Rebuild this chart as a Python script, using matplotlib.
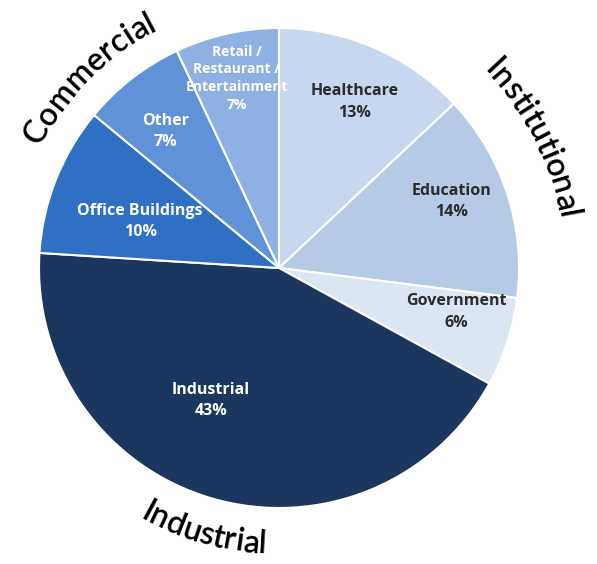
import numpy as np
import matplotlib.pyplot as plt

sectors = ['Healthcare', 'Education', 'Government', 'Industrial',
           'Office Buildings', 'Other', 'Retail /\nRestaurant /\nEntertainment']
shares = [13, 14, 6, 43, 10, 7, 7]
groups = ['Institutional', 'Industrial', 'Commercial']

colors = ['#c6d7ef', '#b6cae6', '#dce6f3', '#1b365f', '#3070c4', '#5f92d6', '#8db1e2']
text_colors = ['#2b2b2b', '#2b2b2b', '#2b2b2b', 'white', 'white', 'white', 'white']
label_dist = [0.76, 0.77, 0.76, 0.62, 0.61, 0.74, 0.81]
label_turn = [-1, 3, 4, -11, 3, 2, 0]   # nudge label angle off the wedge middle
label_size = [11.5, 11.5, 11.5, 11.5, 11.5, 11.5, 10]
label_gap = [1.45, 1.45, 1.45, 1.45, 1.45, 1.45, 1.35]

W, H = 597, 564
cx, cy, R = 279, H - 268, 240
FONT = 'Open Sans'
ARC_FONT = 'Lato'


def arc_text(ax, text, mid, radius, size, bottom=False):
    # lay out characters one by one along a circle around the pie centre
    rend = ax.figure.canvas.get_renderer()
    widths = []
    for ch in text:
        t = ax.text(0, 0, ch, fontsize=size, family=ARC_FONT, fontweight='semibold')
        widths.append(t.get_window_extent(rend).width)
        t.remove()
    span = sum(widths) / radius
    pos = 0.0
    for ch, w in zip(text, widths):
        off = (pos + w / 2) / radius
        if bottom:
            phi = np.radians(mid) + span / 2 - off
            rot = 180 - np.degrees(phi)
        else:
            phi = np.radians(mid) - span / 2 + off
            rot = -np.degrees(phi)
        ax.text(cx + radius * np.sin(phi), cy + radius * np.cos(phi), ch,
                fontsize=size, family=ARC_FONT, fontweight='semibold', rotation=rot,
                rotation_mode='anchor', ha='center', va='baseline', color='black')
        pos += w


fig = plt.figure(figsize=(W / 100, H / 100), dpi=100)
ax = fig.add_axes([0, 0, 1, 1])

wedges, _ = ax.pie(shares, colors=colors, startangle=90, counterclock=False,
                   radius=R, center=(cx, cy),
                   wedgeprops=dict(edgecolor='white', linewidth=1.5))

for w, name, pct, tc, d, turn, fs, gap in zip(wedges, sectors, shares, text_colors,
                                              label_dist, label_turn, label_size, label_gap):
    ang = np.radians((w.theta1 + w.theta2) / 2 + turn)
    ax.text(cx + d * R * np.cos(ang), cy + d * R * np.sin(ang), f'{name}\n{pct}%',
            ha='center', va='center', color=tc, fontsize=fs, family=FONT,
            fontweight='bold', linespacing=gap)

ax.set_xlim(0, W)
ax.set_ylim(0, H)
ax.set_aspect('equal')
ax.axis('off')

arc_text(ax, groups[0], 63, 284, 23)
arc_text(ax, groups[1], 196, 286, 23, bottom=True)
arc_text(ax, groups[2], 315, 268, 23)

fig.savefig('out.png', dpi=100)
